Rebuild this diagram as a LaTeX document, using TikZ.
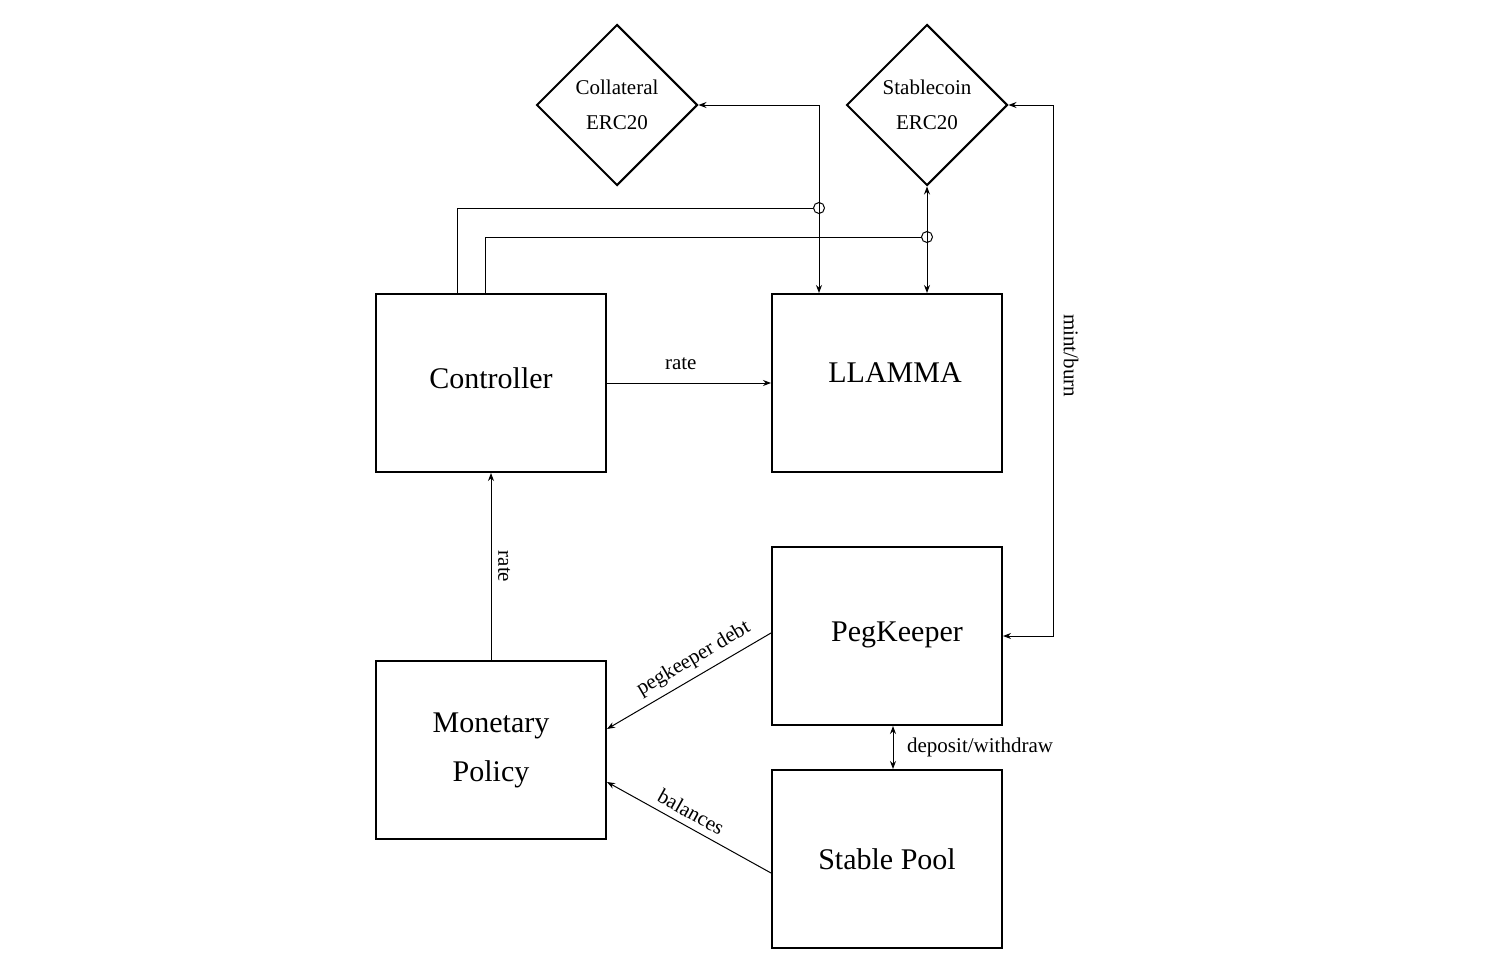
\documentclass[tikz,border=0pt]{standalone}
\usepackage{fontspec}
\setmainfont{Liberation Serif}
\usetikzlibrary{arrows.meta, shapes.geometric, positioning}

\begin{document}
\begin{tikzpicture}[x=0.5pt, y=-0.5pt, line cap=round,
    block/.style={draw, line width=1pt, minimum width=115pt, minimum height=89pt, align=center, font=\fontsize{15}{24.5}\selectfont},
    token/.style={draw, diamond, aspect=1, line width=1pt, minimum size=80.5pt, inner sep=0pt, align=center, font=\fontsize{10.5}{17.5}\selectfont},
    link/.style={line width=0.5pt, -{Stealth[length=4pt, width=3pt]}},
    both/.style={line width=0.5pt, {Stealth[length=4pt, width=3pt]}-{Stealth[length=4pt, width=3pt]}},
    hop/.style={draw, circle, line width=0.5pt, minimum size=5.5pt, inner sep=0pt},
    lbl/.style={font=\fontsize{10.5}{12}\selectfont}]
    \useasboundingbox (0,0) rectangle (1506,969);

    % boxes
    \node[block] (ctrl) at (491,383) {\raisebox{5pt}{Controller}};
    \node[block] (llamma) at (887,383) {\hspace*{8pt}\raisebox{10pt}{LLAMMA}};
    \node[block] (peg) at (887,636) {\hspace*{10pt}\raisebox{4pt}{PegKeeper}};
    \node[block] (pool) at (887,859) {Stable Pool};
    \node[block] (mon) at (491,750) {Monetary\\Policy};
    \node[token] (coll) at (617,105) {Collateral\\ERC20};
    \node[token] (stab) at (927,105) {Stablecoin\\ERC20};
    \node[hop] (hopA) at (819,208) {};
    \node[hop] (hopB) at (927,237) {};

    % connectors
    \draw[link] (ctrl) -- (llamma) node[lbl, pos=0.45, above=3pt] {rate};
    \draw[link] (mon.north) -- (ctrl.south) node[lbl, midway, rotate=-90, anchor=south] {rate};
    \draw[both] (coll.east) -| ([xshift=-34pt]llamma.north);
    \draw[both] (stab.south) -- (stab.south |- llamma.north);
    \draw[line width=0.5pt] ([xshift=-17pt]ctrl.north) |- (hopA.west);
    \draw[line width=0.5pt] ([xshift=-3pt]ctrl.north) |- (hopB.west);
    \draw[both] (stab.east) -| ([xshift=25pt]peg.east) node[lbl, pos=0.736, rotate=-90, anchor=south, outer sep=2pt] {mint/burn} -- (peg.east);
    \draw[both] ([xshift=3pt]peg.south) -- ([xshift=3pt]pool.north) node[lbl, midway, right=3.5pt] {deposit/withdraw};
    \draw[link] ([yshift=1.5pt]peg.west) -- ([yshift=10.5pt]mon.east) node[lbl, pos=0.42, sloped, above] {pegkeeper debt};
    \draw[link] ([yshift=-7pt]pool.west) -- ([yshift=-16pt]mon.east) node[lbl, pos=0.53, sloped, above] {balances};
\end{tikzpicture}
\end{document}
